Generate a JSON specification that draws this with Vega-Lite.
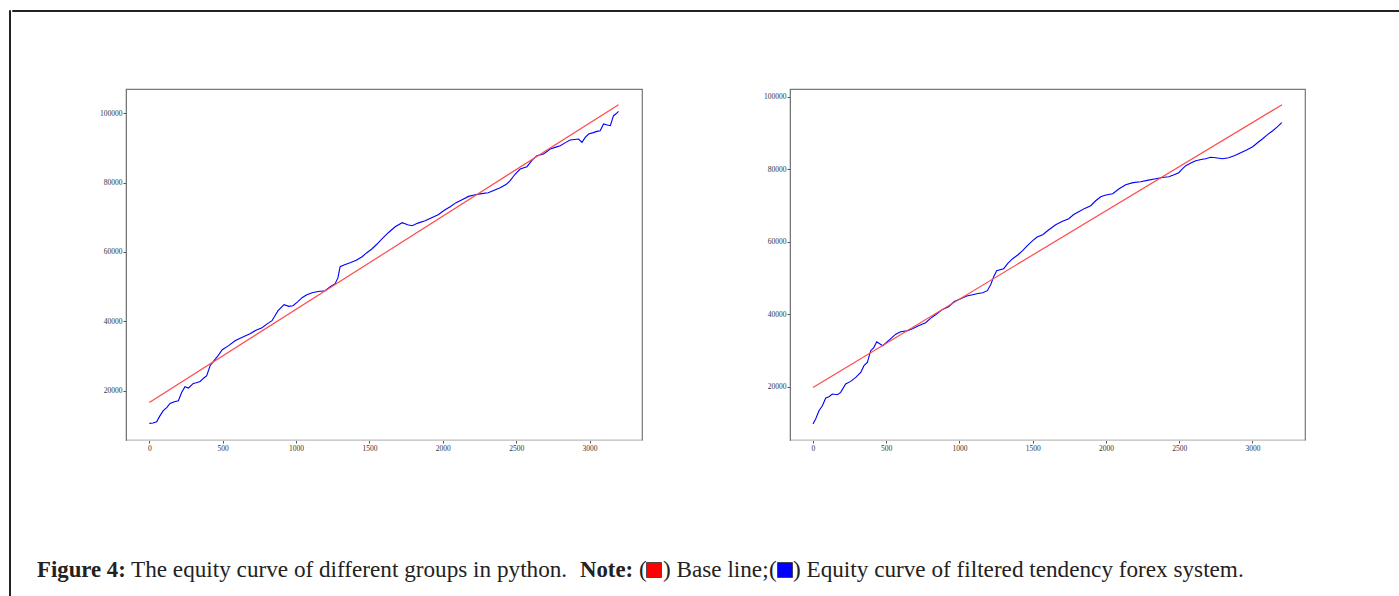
{
  "$schema": "https://vega.github.io/schema/vega-lite/v6.json",
  "padding": {"left": 8, "top": 9, "right": 0, "bottom": 0},
  "background": "white",
  "config": {
    "view": {"stroke": null},
    "axis": {"labelFont": "Liberation Serif", "labelFontSize": 7.5, "labelColor": "#333", "tickColor": "#555", "tickSize": 3, "labelPadding": 1, "domainColor": "#777", "grid": false, "title": null}
  },
  "datasets": {
    "left_eq": [
      {"x":0,"y":10576},{"x":25,"y":10700},{"x":50,"y":11066},{"x":70,"y":12600},{"x":95,"y":14236},{"x":120,"y":15200},{"x":141,"y":16340},{"x":170,"y":16800},{"x":198,"y":17118},{"x":220,"y":19500},{"x":243,"y":21153},{"x":266,"y":20778},{"x":300,"y":22104},{"x":320,"y":22300},{"x":346,"y":22680},{"x":370,"y":23600},{"x":391,"y":24323},{"x":414,"y":27205},{"x":441,"y":28646},{"x":470,"y":30200},{"x":497,"y":31800},{"x":540,"y":33000},{"x":584,"y":34400},{"x":630,"y":35300},{"x":686,"y":36430},{"x":730,"y":37500},{"x":768,"y":38160},{"x":800,"y":39200},{"x":836,"y":40170},{"x":877,"y":43060},{"x":918,"y":44780},{"x":950,"y":44300},{"x":979,"y":44500},{"x":1010,"y":45600},{"x":1041,"y":46800},{"x":1070,"y":47600},{"x":1109,"y":48240},{"x":1150,"y":48600},{"x":1198,"y":48820},{"x":1230,"y":49900},{"x":1266,"y":50840},{"x":1285,"y":52500},{"x":1300,"y":55740},{"x":1330,"y":56300},{"x":1368,"y":56890},{"x":1410,"y":57600},{"x":1450,"y":58620},{"x":1480,"y":59700},{"x":1518,"y":60920},{"x":1550,"y":62200},{"x":1587,"y":63800},{"x":1630,"y":65600},{"x":1675,"y":67260},{"x":1723,"y":68420},{"x":1760,"y":67800},{"x":1791,"y":67550},{"x":1830,"y":68300},{"x":1879,"y":69000},{"x":1920,"y":69800},{"x":1968,"y":70720},{"x":2010,"y":72000},{"x":2050,"y":73030},{"x":2090,"y":74200},{"x":2131,"y":75050},{"x":2175,"y":76000},{"x":2220,"y":76490},{"x":2265,"y":76800},{"x":2309,"y":77060},{"x":2350,"y":77800},{"x":2390,"y":78500},{"x":2430,"y":79400},{"x":2459,"y":80522},{"x":2490,"y":82300},{"x":2527,"y":83894},{"x":2573,"y":84557},{"x":2610,"y":86500},{"x":2641,"y":87727},{"x":2686,"y":88217},{"x":2732,"y":89658},{"x":2770,"y":90200},{"x":2800,"y":90609},{"x":2835,"y":91500},{"x":2868,"y":92252},{"x":2925,"y":92540},{"x":2948,"y":91560},{"x":2970,"y":93000},{"x":2993,"y":93981},{"x":3020,"y":94300},{"x":3050,"y":94730},{"x":3072,"y":94932},{"x":3095,"y":96863},{"x":3120,"y":96600},{"x":3141,"y":96373},{"x":3163,"y":99255},{"x":3180,"y":99800},{"x":3197,"y":100494}
    ],
    "left_base": [{"x":0,"y":16630},{"x":3197,"y":102425}],
    "right_eq": [
      {"x":0,"y":9709},{"x":18,"y":11088},{"x":41,"y":13378},{"x":64,"y":14758},{"x":87,"y":16882},{"x":109,"y":17241},{"x":132,"y":17986},{"x":167,"y":17793},{"x":189,"y":18427},{"x":223,"y":20745},{"x":257,"y":21462},{"x":292,"y":22566},{"x":326,"y":23945},{"x":348,"y":25794},{"x":371,"y":26704},{"x":394,"y":29930},{"x":415,"y":30800},{"x":435,"y":32400},{"x":476,"y":31300},{"x":531,"y":33240},{"x":565,"y":34500},{"x":599,"y":35170},{"x":640,"y":35400},{"x":680,"y":36000},{"x":720,"y":36800},{"x":769,"y":37660},{"x":800,"y":38800},{"x":837,"y":39860},{"x":880,"y":41200},{"x":926,"y":42070},{"x":965,"y":43500},{"x":1008,"y":44280},{"x":1050,"y":45000},{"x":1090,"y":45380},{"x":1125,"y":45700},{"x":1159,"y":45930},{"x":1190,"y":46500},{"x":1213,"y":48140},{"x":1235,"y":50500},{"x":1254,"y":52000},{"x":1302,"y":52560},{"x":1330,"y":54000},{"x":1363,"y":55320},{"x":1400,"y":56400},{"x":1431,"y":57520},{"x":1465,"y":59000},{"x":1500,"y":60280},{"x":1530,"y":61300},{"x":1568,"y":61940},{"x":1610,"y":63300},{"x":1657,"y":64700},{"x":1700,"y":65600},{"x":1746,"y":66350},{"x":1780,"y":67500},{"x":1814,"y":68280},{"x":1855,"y":69200},{"x":1896,"y":69940},{"x":1930,"y":71300},{"x":1964,"y":72420},{"x":2000,"y":72900},{"x":2046,"y":73250},{"x":2090,"y":74600},{"x":2135,"y":75730},{"x":2185,"y":76300},{"x":2237,"y":76560},{"x":2290,"y":77000},{"x":2340,"y":77390},{"x":2385,"y":77700},{"x":2429,"y":77940},{"x":2465,"y":78500},{"x":2497,"y":79040},{"x":2520,"y":80000},{"x":2545,"y":80970},{"x":2580,"y":81700},{"x":2613,"y":82350},{"x":2650,"y":82700},{"x":2681,"y":82900},{"x":2715,"y":83300},{"x":2750,"y":83180},{"x":2795,"y":82900},{"x":2838,"y":83180},{"x":2880,"y":83800},{"x":2920,"y":84560},{"x":2960,"y":85300},{"x":3002,"y":86220},{"x":3035,"y":87300},{"x":3070,"y":88420},{"x":3105,"y":89600},{"x":3139,"y":90630},{"x":3170,"y":91700},{"x":3200,"y":92840}
    ],
    "right_base": [{"x":0,"y":19807},{"x":3202,"y":97800}]
  },
  "spacing": 0,
  "hconcat": [
    {"data": {"values": []}, "mark": "point", "width": 1, "height": 600, "view": {"stroke": "#222", "strokeWidth": 1}},
    {
      "spacing": 76,
      "vconcat": [
        {"data": {"values": []}, "mark": "point", "width": 1391, "height": 1, "view": {"stroke": "#222", "strokeWidth": 1}},
        {
          "spacing": 0,
          "hconcat": [
            {"data": {"values": []}, "mark": "point", "width": 86, "height": 1},
            {
              "spacing": 119,
              "hconcat": [
                {
                  "width": 516, "height": 351,
                  "view": {"stroke": "#777", "strokeWidth": 1.2},
                  "encoding": {
                    "x": {"field": "x", "type": "quantitative", "scale": {"domain": [-159, 3357], "nice": false, "zero": false}, "axis": {"values": [0,500,1000,1500,2000,2500,3000], "format": "d", "domainColor": "#ccc"}},
                    "y": {"field": "y", "type": "quantitative", "scale": {"domain": [5792, 106950], "nice": false, "zero": false}, "axis": {"values": [20000,40000,60000,80000,100000], "format": "d"}}
                  },
                  "layer": [
                    {"data": {"name": "left_eq"}, "mark": {"type": "line", "color": "#0000ff", "strokeWidth": 1.1}},
                    {"data": {"name": "left_base"}, "mark": {"type": "line", "color": "#ff4a4a", "strokeWidth": 1.2}}
                  ]
                },
                {
                  "width": 515, "height": 351,
                  "view": {"stroke": "#777", "strokeWidth": 1.2},
                  "encoding": {
                    "x": {"field": "x", "type": "quantitative", "scale": {"domain": [-157, 3359], "nice": false, "zero": false}, "axis": {"values": [0,500,1000,1500,2000,2500,3000], "format": "d", "domainColor": "#ccc"}},
                    "y": {"field": "y", "type": "quantitative", "scale": {"domain": [5294, 102135], "nice": false, "zero": false}, "axis": {"values": [20000,40000,60000,80000,100000], "format": "d"}}
                  },
                  "layer": [
                    {"data": {"name": "right_eq"}, "mark": {"type": "line", "color": "#0000ff", "strokeWidth": 1.1}},
                    {"data": {"name": "right_base"}, "mark": {"type": "line", "color": "#ff4a4a", "strokeWidth": 1.2}}
                  ]
                }
              ]
            }
          ]
        },
        {
          "width": 1391, "height": 82,
          "encoding": {
            "x": {"field": "pos", "type": "quantitative", "scale": {"domain": [8, 1399], "nice": false, "zero": false}, "axis": null}
          },
          "layer": [
            {"data": {"values": [{"t": "Figure 4:", "pos": 33}, {"t": "Note:", "pos": 576}]},
             "mark": {"type": "text", "align": "left", "baseline": "middle", "font": "Liberation Serif", "fontSize": 22.8, "fontWeight": "bold", "color": "#222"},
             "encoding": {"text": {"field": "t"}}},
            {"data": {"values": [{"t": "The equity curve of different groups in python.", "pos": 127}, {"t": "(", "pos": 635}, {"t": ") Base line;", "pos": 659}, {"t": "(", "pos": 765}, {"t": ") Equity curve of filtered tendency forex system.", "pos": 789}]},
             "mark": {"type": "text", "align": "left", "baseline": "middle", "font": "Liberation Serif", "fontSize": 23.2, "color": "#222"},
             "encoding": {"text": {"field": "t"}}},
            {"data": {"values": [{"k": "Base line", "pos": 650}, {"k": "Equity curve", "pos": 781}]},
             "mark": {"type": "square", "size": 225, "filled": true, "opacity": 1, "stroke": "#333", "strokeWidth": 0.8},
             "encoding": {"color": {"field": "k", "type": "nominal", "scale": {"domain": ["Base line", "Equity curve"], "range": ["#ff0000", "#0000ff"]}, "legend": null}}}
          ]
        }
      ]
    }
  ]
}
